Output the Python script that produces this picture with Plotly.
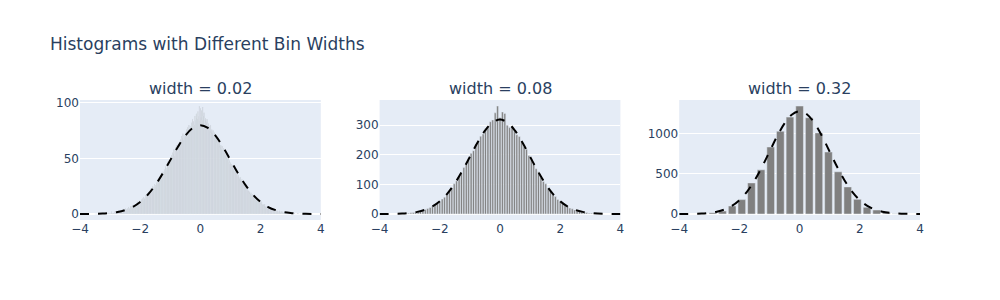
import numpy as np
import plotly.graph_objects as go
from plotly.subplots import make_subplots

widths = [0.02, 0.08, 0.32]
subplot_titles = ["width = 0.02", "width = 0.08", "width = 0.32"]

# Bin counts (width 0.02, centres from -3.50 to 3.50)
counts_002 = [
    0, 0, 0, 0, 0,
    0, 0, 1, 0, 0,
    0, 0, 0, 1, 0,
    1, 0, 0, 0, 1,
    0, 1, 0, 1, 0,
    1, 0, 2, 1, 0,
    1, 1, 0, 2, 1,
    2, 1, 1, 2, 3,
    1, 2, 3, 2, 2,
    3, 2, 4, 3, 2,
    3, 5, 4, 3, 5,
    4, 6, 5, 4, 7,
    5, 7, 6, 8, 6,
    8, 6, 9, 7, 10,
    9, 11, 8, 10, 12,
    11, 10, 13, 12, 14,
    12, 15, 14, 13, 17,
    16, 15, 18, 17, 20,
    19, 21, 18, 23, 20,
    22, 25, 21, 24, 27,
    26, 24, 28, 27, 30,
    31, 28, 33, 30, 35,
    34, 37, 33, 38, 36,
    40, 38, 43, 41, 39,
    44, 47, 42, 48, 46,
    50, 47, 53, 51, 55,
    54, 58, 52, 57, 60,
    59, 62, 56, 63, 61,
    64, 60, 67, 65, 70,
    68, 72, 66, 71, 69,
    73, 70, 76, 72, 78,
    75, 80, 74, 79, 77,
    82, 76, 85, 79, 83,
    80, 88, 84, 90, 86,
    85, 92, 88, 97, 83,
    95, 87, 93, 84, 96,
    88, 91, 80, 86, 84,
    82, 85, 78, 81, 76,
    79, 74, 80, 73, 76,
    72, 75, 70, 73, 68,
    71, 67, 69, 64, 66,
    65, 61, 64, 60, 62,
    58, 61, 57, 59, 55,
    56, 52, 54, 50, 53,
    49, 51, 47, 48, 45,
    46, 43, 45, 41, 44,
    40, 42, 38, 41, 37,
    36, 38, 34, 35, 33,
    32, 30, 33, 29, 31,
    28, 27, 29, 25, 26,
    24, 25, 22, 23, 21,
    21, 19, 20, 18, 19,
    17, 18, 16, 15, 17,
    14, 15, 13, 14, 12,
    12, 11, 13, 10, 11,
    10, 9, 11, 8, 9,
    8, 7, 9, 6, 7,
    6, 7, 5, 6, 5,
    5, 4, 6, 4, 5,
    4, 3, 4, 3, 4,
    3, 3, 2, 3, 2,
    2, 3, 2, 1, 2,
    2, 1, 2, 1, 1,
    1, 2, 1, 1, 0,
    1, 0, 1, 1, 0,
    1, 0, 0, 1, 0,
    0, 1, 0, 0, 0,
    0, 0, 1, 0, 0,
    0, 0, 0, 0, 0,
    0, 0, 0, 0, 0,
    0,
]
start_002 = -3.50

# width 0.08, centres from -3.20 to 3.20
counts_008 = [
    2, 2, 3, 4, 5, 6, 8, 9, 12, 15,
    19, 22, 27, 32, 37, 42, 51, 57, 68, 78,
    87, 102, 112, 128, 139, 157, 169, 188, 205, 214,
    236, 244, 263, 270, 288, 292, 312, 318, 342, 365,
    325,
    345, 340, 300, 292, 296, 281, 268, 262, 243, 228,
    219, 198, 187, 168, 153, 143, 124, 110, 102, 86,
    78, 66, 59, 49, 44, 35, 30, 27, 20, 18,
    14, 12, 9, 8, 6, 5, 3, 3, 2, 1,
]
start_008 = -3.20

# width 0.32, centres from -3.20 to 3.20
counts_032 = [5, 17, 37, 100, 179, 387, 550, 833, 1029, 1204,
              1342, 1196, 1008, 771, 525, 337, 183, 83, 50, 20, 5]
start_032 = -3.20

# Dashed reference curves at x = -4 .. 4 (step 0.25)
curve_x = [-4.0, -3.75, -3.5, -3.25, -3.0, -2.75, -2.5, -2.25, -2.0, -1.75,
           -1.5, -1.25, -1.0, -0.75, -0.5, -0.25, 0.0, 0.25, 0.5, 0.75,
           1.0, 1.25, 1.5, 1.75, 2.0, 2.25, 2.5, 2.75, 3.0, 3.25,
           3.5, 3.75, 4.0]
curve_002 = [0.03, 0.07, 0.17, 0.4, 0.9, 1.8, 3.5, 6.3, 10.8, 17.3,
             25.9, 36.5, 48.4, 60.2, 70.4, 77.3, 79.8, 77.3, 70.4, 60.2,
             48.4, 36.5, 25.9, 17.3, 10.8, 6.3, 3.5, 1.8, 0.9, 0.4,
             0.17, 0.07, 0.03]
curve_008 = [0.1, 0.3, 0.7, 1.6, 3.5, 7.3, 14.0, 25.4, 43.2, 69.0,
             103.6, 146.1, 193.6, 240.9, 281.6, 309.3, 319.1, 309.3, 281.6, 240.9,
             193.6, 146.1, 103.6, 69.0, 43.2, 25.4, 14.0, 7.3, 3.5, 1.6,
             0.7, 0.3, 0.1]
curve_032 = [0.4, 1.1, 2.8, 6.5, 14.2, 29.2, 56.0, 101.4, 172.7, 276.2,
             414.5, 584.4, 774.3, 963.6, 1126.5, 1237.2, 1276.6, 1237.2, 1126.5, 963.6,
             774.3, 584.4, 414.5, 276.2, 172.7, 101.4, 56.0, 29.2, 14.2, 6.5,
             2.8, 1.1, 0.4]

bar_sets = [(counts_002, start_002), (counts_008, start_008), (counts_032, start_032)]
curves = [curve_002, curve_008, curve_032]

fig = make_subplots(rows=1, cols=3, subplot_titles=subplot_titles,
                    horizontal_spacing=0.07)

for i, (w, (counts, start), curve) in enumerate(zip(widths, bar_sets, curves)):
    centres = np.round(start + w * np.arange(len(counts)), 4)
    fig.add_trace(go.Bar(x=centres, y=counts, width=w * 0.8,
                         marker=dict(color="gray",
                                     line=dict(width=0.5, color="#E5ECF6")),
                         showlegend=False), row=1, col=i + 1)
    fig.add_trace(go.Scatter(x=curve_x, y=curve, mode="lines",
                             line=dict(color="black", width=2, dash="dash",
                                       shape="spline"),
                             showlegend=False), row=1, col=i + 1)
    fig.update_xaxes(range=[-4, 4], dtick=2, row=1, col=i + 1)

fig.update_layout(
    title=dict(text="Histograms with Different Bin Widths"),
    width=1000, height=300,
    bargap=0.2,
    template="plotly",
    font=dict(family="DejaVu Sans"),
    showlegend=False,
)
fig.update_annotations(font=dict(family="DejaVu Sans", size=16))

fig.write_html("out.html")
